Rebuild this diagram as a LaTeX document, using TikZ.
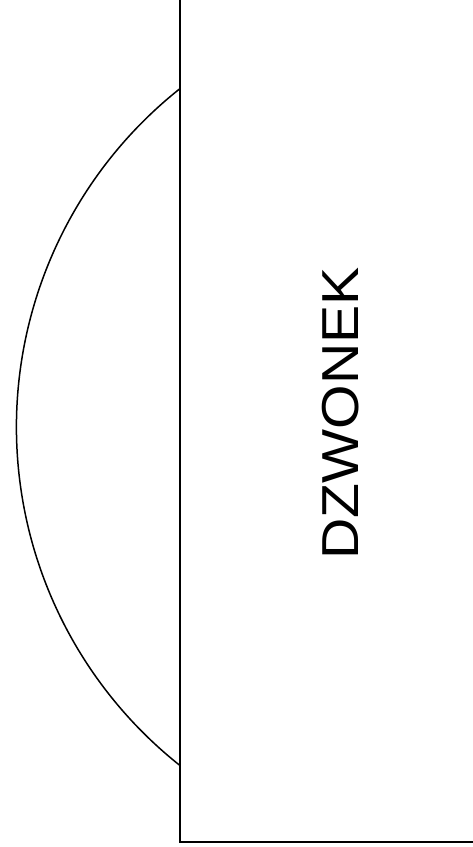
\documentclass[tikz,border=0pt]{standalone}
\usepackage{fontspec}
\setmainfont{Liberation Sans}
\begin{document}
\begin{tikzpicture}[x=1pt,y=1pt,
  boxline/.style={draw=black,line width=2pt},
  arcline/.style={draw=black,line width=1.5pt},
  label/.style={font=\fontsize{52}{60}\selectfont,inner sep=0pt,rotate=90}]
\useasboundingbox (0,0) rectangle (472,847);
\coordinate (bl) at (179.5,5);
\coordinate (tr) at (476,847.5);
\draw[boxline] (bl) rectangle (tr);
\coordinate (a1) at (179.5,758);
\draw[arcline] (a1) arc[start angle=128.5,end angle=231.5,radius=432];
\node[label] (t) at (340.5,433.5) {\scalebox{1.1}[1]{DZWONEK}};
\end{tikzpicture}
\end{document}
